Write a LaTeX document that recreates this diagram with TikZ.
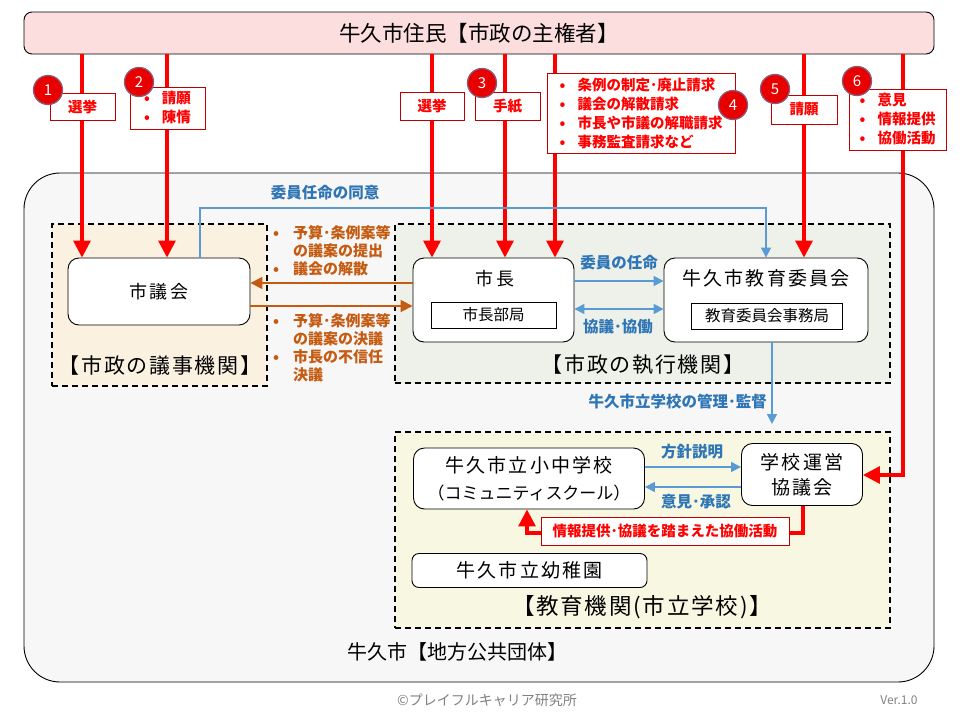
\documentclass[tikz,border=0pt]{standalone}
\usepackage{fontspec}
\setmainfont{Noto Sans CJK JP}
\newfontfamily\widejp{Noto Sans CJK JP}[LetterSpace=12]
\newfontfamily\semiwidejp{Noto Sans CJK JP}[LetterSpace=8]
\usepackage{xcolor}
\usepackage{tikz}
\usetikzlibrary{arrows.meta,shapes,backgrounds,fit}

\definecolor{citizenpink}{RGB}{253,222,222}
\definecolor{cityfill}{RGB}{247,247,247}
\definecolor{assemblyfill}{RGB}{251,241,225}
\definecolor{execfill}{RGB}{237,241,233}
\definecolor{edufill}{RGB}{248,248,226}
\definecolor{linkblue}{RGB}{91,155,213}
\definecolor{textblue}{RGB}{46,117,182}
\definecolor{billorange}{RGB}{197,90,17}
\definecolor{tagred}{RGB}{192,0,0}
\definecolor{ballred}{RGB}{232,0,0}
\definecolor{ballrim}{RGB}{140,90,120}
\newcommand{\jfs}[2]{\fontsize{#1}{#2}\selectfont}

\begin{document}
\begin{tikzpicture}[x=1pt,y=-1pt]
      \tikzstyle{areabox}=[draw=black, line width=1.5pt, dash pattern=on 6pt off 4pt, inner sep=0pt]
      \tikzstyle{organbox}=[draw=black, fill=white, line width=0.9pt, rounded corners=11pt, inner sep=0pt]
      \tikzstyle{officebox}=[draw=black, fill=white, line width=0.8pt, inner sep=0pt, font=\jfs{15.5}{18}]
      \tikzstyle{titletext}=[font=\widejp\jfs{18}{22}, align=center, inner sep=0pt]
      \tikzstyle{areatext}=[font=\semiwidejp\jfs{21}{22}, inner sep=0pt]
      \tikzstyle{tagbox}=[draw=tagred, fill=white, line width=0.8pt, text=red, font=\bfseries\jfs{14.5}{19}, align=left, inner sep=0pt]
      \tikzstyle{numball}=[circle, fill=ballred, draw=ballrim, line width=1.3pt, minimum size=29pt, inner sep=0pt, text=white, font=\jfs{15}{15}]
      \tikzstyle{votearrow}=[draw=red, line width=3.2pt, -{Triangle[length=17pt,width=17pt]}]
      \tikzstyle{linkarrow}=[draw=linkblue, line width=1.6pt, -{Triangle[length=10pt,width=10pt]}]
      \tikzstyle{billarrow}=[draw=billorange, line width=1.8pt, -{Triangle[length=12pt,width=12pt]}]
      \tikzstyle{linktext}=[text=textblue, font=\bfseries\jfs{15.5}{18}, inner sep=0pt]
      \tikzstyle{billtext}=[text=billorange, font=\bfseries\jfs{15}{18}, align=left, inner sep=0pt]

      \useasboundingbox (0,0) rectangle (960,720);

      \node (residents) at (479,33) [draw=black, fill=citizenpink, line width=0.9pt, rounded corners=8pt, minimum width=910pt, minimum height=42pt, font=\jfs{21.5}{22}] {牛久市住民【市政の主権者】};

      \node (city) at (479,427.5) [draw=black, fill=cityfill, line width=0.9pt, rounded corners=36pt, minimum width=910pt, minimum height=509pt] {};
      \node (citytext) at (457,652) [font=\jfs{20}{22}] {牛久市【地方公共団体】};

      \node (assembly) at (159.5,305) [areabox, fill=assemblyfill, minimum width=215pt, minimum height=162pt] {};
      \node (executive) at (642.5,303.5) [areabox, fill=execfill, minimum width=495pt, minimum height=159pt] {};
      \node (schools) at (642.5,530) [areabox, fill=edufill, minimum width=495pt, minimum height=196pt] {};
      \node (assemblytext) at (160,366) [areatext] {【市政の議事機関】};
      \node (executivetext) at (643,365) [areatext] {【市政の執行機関】};
      \node (schoolstext) at (642,607) [areatext, font=\semiwidejp\jfs{22.5}{22}] {【教育機関(市立学校)】};

      \node (council) at (159,291.5) [organbox, titletext, minimum width=182pt, minimum height=67pt] {市議会};

      \node (mayor) at (493.5,300) [organbox, minimum width=161pt, minimum height=84pt] {};
      \node (mayortitle) at (495,279) [titletext] {市長};
      \node (mayordept) at (493.5,315) [officebox, minimum width=125pt, minimum height=26pt] {市長部局};

      \node (board) at (766,300) [organbox, minimum width=204pt, minimum height=84pt] {};
      \node (boardtitle) at (766,278) [titletext, font=\widejp\jfs{19}{22}] {牛久市教育委員会};
      \node (boardoffice) at (767,316) [officebox, minimum width=151pt, minimum height=26pt] {教育委員会事務局};

      \node (school) at (529,478.5) [organbox, minimum width=231pt, minimum height=61pt, align=center, font=\jfs{17}{27}] {{\widejp\jfs{19}{27}牛久市立小中学校}\\（コミュニティスクール）};
      \node (steering) at (802,474.5) [organbox, minimum width=121pt, minimum height=62pt, align=center, font=\widejp\jfs{19}{25}] {学校運営\\協議会};
      \node (kinder) at (529.5,570.5) [organbox, rounded corners=7pt, titletext, minimum width=235pt, minimum height=34pt, font=\widejp\jfs{19}{22}] {牛久市立幼稚園};

      \draw[votearrow] (82,0 |- residents.south) -- (82,0 |- council.north);
      \draw[votearrow] (167,0 |- residents.south) -- (167,0 |- council.north);
      \draw[votearrow] (432,0 |- residents.south) -- (432,0 |- mayor.north);
      \draw[votearrow] (505,0 |- residents.south) -- (505,0 |- mayor.north);
      \draw[votearrow] (555,0 |- residents.south) -- (555,0 |- mayor.north);
      \draw[votearrow] (804,0 |- residents.south) -- (804,0 |- board.north);
      \draw[votearrow] (903,0 |- residents.south) |- (steering.east |- 0,475);

      \draw[linkarrow] (200,0 |- council.north) |- (766,208) -- (766,0 |- board.north);
      \node (consenttext) at (325,193) [linktext] {委員任命の同意};

      \draw[billarrow] (mayor.west |- 0,283) -- (council.east |- 0,283);
      \draw[billarrow] (council.east |- 0,306) -- (mayor.west |- 0,306);
      \node (billup) at (273,225) [billtext, anchor=north west] {\makebox[20pt][l]{•}予算･条例案等\\\makebox[20pt][l]{}の議案の提出\\\makebox[20pt][l]{•}議会の解散};
      \node (billdown) at (273,313) [billtext, anchor=north west] {\makebox[20pt][l]{•}予算･条例案等\\\makebox[20pt][l]{}の議案の決議\\\makebox[20pt][l]{•}市長の不信任\\\makebox[20pt][l]{}決議};

      \draw[linkarrow] (mayor.east |- 0,281) -- (board.west |- 0,281);
      \draw[linkarrow, {Triangle[length=10pt,width=10pt]}-{Triangle[length=10pt,width=10pt]}] (mayor.east |- 0,309) -- (board.west |- 0,309);
      \node (appointtext) at (619,263) [linktext] {委員の任命};
      \node (jointtext) at (618,327) [linktext] {協議･協働};

      \coordinate (supervisetip) at (772,424);
      \draw[linkarrow] (772,0 |- board.south) -- (supervisetip);
      \node (supervisetext) at (767,402) [linktext, anchor=east] {牛久市立学校の管理･監督};

      \draw[linkarrow] (school.east |- 0,467) -- (steering.west |- 0,467);
      \draw[linkarrow] (steering.west |- 0,487) -- (school.east |- 0,487);
      \node (policytext) at (692,452) [linktext] {方針説明};
      \node (opiniontext) at (696,502) [linktext] {意見･承認};

      \draw[votearrow] (803,0 |- steering.south) |- (527,533) -- (527,0 |- school.south);
      \node (cooptext) at (665,531) [tagbox, minimum width=248pt, minimum height=28pt, align=center] {情報提供･協議を踏まえた協働活動};

      \node (tag1) at (82.5,106.5) [tagbox, minimum width=65pt, minimum height=27pt, align=center] {選挙};
      \node (tag2) at (167.5,108) [tagbox, minimum width=75pt, minimum height=42pt] {\makebox[18pt][l]{•}請願\\\makebox[18pt][l]{•}陳情};
      \node (tag3) at (432,106) [tagbox, minimum width=64pt, minimum height=28pt, align=center] {選挙};
      \node (tag4) at (507.5,106) [tagbox, minimum width=65pt, minimum height=28pt, align=center] {手紙};
      \node (tag5) at (641,113) [tagbox, minimum width=188pt, minimum height=80pt] {\makebox[18pt][l]{•}条例の制定･廃止請求\\\makebox[18pt][l]{•}議会の解散請求\\\makebox[18pt][l]{•}市長や市議の解職請求\\\makebox[18pt][l]{•}事務監査請求など};
      \node (tag6) at (804,109.5) [tagbox, minimum width=66pt, minimum height=29pt, align=center] {請願};
      \node (tag7) at (897.5,119.5) [tagbox, minimum width=97pt, minimum height=61pt] {\makebox[18pt][l]{•}意見\\\makebox[18pt][l]{•}情報提供\\\makebox[18pt][l]{•}協働活動};

      \node (num1) at (48,90) [numball] {1};
      \node (num2) at (139,82) [numball] {2};
      \node (num3) at (482,83) [numball] {3};
      \node (num4) at (733,105) [numball] {4};
      \node (num5) at (775,89) [numball] {5};
      \node (num6) at (857,81) [numball] {6};

      \node (credit) at (487,700) [text=gray, font=\jfs{14}{16}] {©プレイフルキャリア研究所};
      \node (version) at (899,700) [text=gray, font=\jfs{12}{14}] {Ver.1.0};
    \end{tikzpicture}
\end{document}
